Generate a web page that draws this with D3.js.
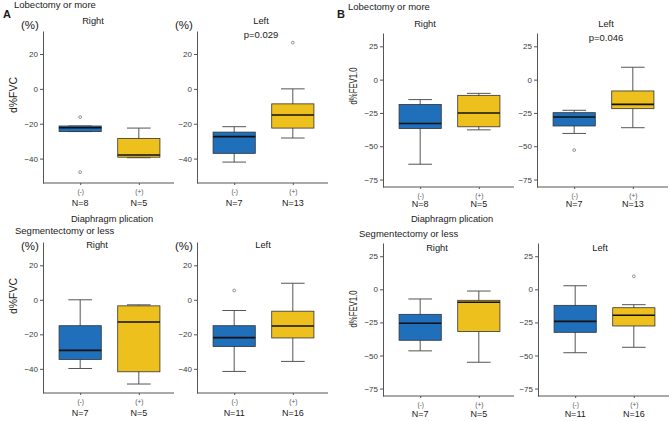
<!DOCTYPE html>
<meta charset="utf-8">
<style>
    body { margin: 0; background: #fff; }
    svg text { font-family: "Liberation Sans", Arial, sans-serif; fill: #1a1a1a; }
    .tick text { fill: #3a3a3a; font-size: 8px; }
    .tick line, .domain { stroke: #555; }
    .xax .tick text { font-size: 6.5px; fill: #555; }
</style>
<svg width="671" height="421"></svg>
<script src="https://d3js.org/d3.v7.min.js"></script>
<script>
    var svg = d3.select("svg");

    var groups = ["(-)", "(+)"];
    var colors = ["#1f6fba", "#edc01e"];
    var fvcTicks = [20, 0, -20, -40];
    var fev1Ticks = [25, 0, -25, -50, -75];

    // boxes: [lower whisker, q1, median, q3, upper whisker]
    var fvcLobRight = [[-24.5, -24.5, -22.3, -21.3, -21.3], [-39.5, -39.2, -37.9, -28.4, -22.5]];
    var fvcLobRightOut = [[-16.2, -47.8], []];
    var fvcLobRightN = [8, 5];

    var fvcLobLeft = [[-42, -37, -27.4, -24.8, -21.7], [-28.2, -22.5, -15, -8.6, 0]];
    var fvcLobLeftOut = [[], [26.5]];
    var fvcLobLeftN = [7, 13];

    var fvcSegRight = [[-39.8, -34.6, -29.3, -15, 0], [-48.8, -41.7, -12.9, -3.5, -2.9]];
    var fvcSegRightOut = [[], []];
    var fvcSegRightN = [7, 5];

    var fvcSegLeft = [[-41.5, -27.1, -21.9, -15, -6.2], [-35.7, -22.1, -15.2, -6.6, 9.6]];
    var fvcSegLeftOut = [[5.4], []];
    var fvcSegLeftN = [11, 16];

    var fevLobRight = [[-63.5, -36.7, -32.9, -18.6, -15], [-37.7, -35.4, -25, -11.8, -10.3]];
    var fevLobRightOut = [[], []];
    var fevLobRightN = [8, 5];

    var fevLobLeft = [[-40.4, -34.8, -28, -24.8, -23], [-36.1, -21.8, -18.6, -8.5, 9.3]];
    var fevLobLeftOut = [[-52.9], []];
    var fevLobLeftN = [7, 13];

    var fevSegRight = [[-46.5, -38.5, -25.6, -18.9, -7.3], [-55.1, -31.9, -9.8, -8.3, -1.3]];
    var fevSegRightOut = [[], []];
    var fevSegRightN = [7, 5];

    var fevSegLeft = [[-47.9, -32.5, -24.2, -12.1, 2.7], [-43.8, -27.7, -19.6, -13.9, -11.6]];
    var fevSegLeftOut = [[], [9.8]];
    var fevSegLeftN = [11, 16];

    // panel layout
    var panels = [
        {box: fvcLobRight, out: fvcLobRightOut, n: fvcLobRightN, ticks: fvcTicks, dom: [-54, 33.2],
         ax: 43, y0: 31, y1: 183, side: "Right", lx: 93, ly: 24, pctY: 29, ytitle: "d%FVC", ty: 95, nY: 206},
        {box: fvcLobLeft, out: fvcLobLeftOut, n: fvcLobLeftN, ticks: fvcTicks, dom: [-54, 33.2],
         ax: 197, y0: 31, y1: 183, side: "Left", lx: 261, ly: 24, pctY: 29, p: "p=0.029", nY: 206},
        {box: fvcSegRight, out: fvcSegRightOut, n: fvcSegRightN, ticks: fvcTicks, dom: [-54, 33.5],
         ax: 43, y0: 242, y1: 393, side: "Right", lx: 97, ly: 248, pctY: 249.5, ytitle: "d%FVC", ty: 296, nY: 416},
        {box: fvcSegLeft, out: fvcSegLeftOut, n: fvcSegLeftN, ticks: fvcTicks, dom: [-54, 33.5],
         ax: 197, y0: 242, y1: 393, side: "Left", lx: 263, ly: 248, pctY: 249.5, nY: 416},
        {box: fevLobRight, out: fevLobRightOut, n: fevLobRightN, ticks: fev1Ticks, dom: [-80.6, 35],
         ax: 383, y0: 33, y1: 187, side: "Right", lx: 425, ly: 27, ytitle: "d%FEV1.0", ty: 86, nY: 207},
        {box: fevLobLeft, out: fevLobLeftOut, n: fevLobLeftN, ticks: fev1Ticks, dom: [-80.6, 35],
         ax: 537, y0: 33, y1: 187, side: "Left", lx: 606, ly: 27, p: "p=0.046", nY: 207},
        {box: fevSegRight, out: fevSegRightOut, n: fevSegRightN, ticks: fev1Ticks, dom: [-80.6, 35],
         ax: 383, y0: 243, y1: 396, side: "Right", lx: 437, ly: 251, ytitle: "d%FEV1.0", ty: 309, nY: 417},
        {box: fevSegLeft, out: fevSegLeftOut, n: fevSegLeftN, ticks: fev1Ticks, dom: [-80.6, 35],
         ax: 538, y0: 243, y1: 396, side: "Left", lx: 600, ly: 251, nY: 417}
    ];

    panels.forEach(drawPanel);

    function drawPanel(p) {
        var g = svg.append("g");
        var y = d3.scaleLinear().domain(p.dom).range([p.y1, p.y0]);
        var x = d3.scaleLinear().domain([0.4, 2.6]).range([p.ax + 2, p.ax + 131]);
        var bw = (x(2) - x(1)) * 0.72;

        g.append("g").attr("transform", "translate(" + p.ax + ",0)")
            .call(d3.axisLeft(y).tickValues(p.ticks).tickSize(3).tickPadding(2).tickSizeOuter(0));
        g.append("g").attr("class", "xax").attr("transform", "translate(0," + p.y1 + ")")
            .call(d3.axisBottom(x).tickValues([1, 2]).tickSize(2).tickPadding(4).tickSizeOuter(0)
                .tickFormat(function (d) { return groups[d - 1]; }))
            .select(".domain").attr("d", "M" + p.ax + ",0H" + (p.ax + 131));

        var b = g.selectAll(".bx").data(p.box).enter().append("g").attr("class", "bx");
        // whiskers
        b.append("line")
            .attr("x1", function (d, i) { return x(i + 1); }).attr("x2", function (d, i) { return x(i + 1); })
            .attr("y1", function (d) { return y(d[0]); }).attr("y2", function (d) { return y(d[4]); })
            .attr("stroke", "#555").attr("stroke-width", 1);
        [0, 4].forEach(function (k) {
            b.append("line")
                .attr("x1", function (d, i) { return x(i + 1) - bw * 0.28; })
                .attr("x2", function (d, i) { return x(i + 1) + bw * 0.28; })
                .attr("y1", function (d) { return y(d[k]); }).attr("y2", function (d) { return y(d[k]); })
                .attr("stroke", "#555").attr("stroke-width", 1);
        });
        b.append("rect")
            .attr("x", function (d, i) { return x(i + 1) - bw / 2; })
            .attr("width", bw)
            .attr("y", function (d) { return y(d[3]); })
            .attr("height", function (d) { return y(d[1]) - y(d[3]); })
            .attr("fill", function (d, i) { return colors[i]; })
            .attr("stroke", "#333").attr("stroke-width", 0.8);
        b.append("line")
            .attr("x1", function (d, i) { return x(i + 1) - bw / 2; })
            .attr("x2", function (d, i) { return x(i + 1) + bw / 2; })
            .attr("y1", function (d) { return y(d[2]); }).attr("y2", function (d) { return y(d[2]); })
            .attr("stroke", "#111").attr("stroke-width", 1.6);

        p.out.forEach(function (arr, i) {
            g.selectAll(null).data(arr).enter().append("circle")
                .attr("cx", x(i + 1)).attr("cy", function (v) { return y(v); })
                .attr("r", 1.4).attr("fill", "none").attr("stroke", "#777").attr("stroke-width", 0.8);
        });

        g.selectAll(null).data(p.n).enter().append("text")
            .attr("x", function (d, i) { return x(i + 1); }).attr("y", p.nY)
            .attr("text-anchor", "middle").style("font-size", "9px")
            .text(function (d) { return "N=" + d; });

        g.append("text").attr("x", p.lx).attr("y", p.ly).attr("text-anchor", "middle")
            .style("font-size", "9.3px").text(p.side);
        if (p.p) g.append("text").attr("x", p.lx).attr("y", p.ly + 13.5).attr("text-anchor", "middle")
            .style("font-size", "9.5px").text(p.p);
        if (p.pctY) g.append("text").attr("x", p.ax - 22).attr("y", p.pctY)
            .style("font-size", "11.5px").text("(%)");
        if (p.ytitle) {
            var len = p.pctY ? 36 : 37;
            g.append("text")
                .attr("transform", "translate(" + (p.ax - 26.5) + "," + (p.ty + len / 2) + ") rotate(-90)")
                .style("font-size", "10.5px")
                .attr("textLength", len).attr("lengthAdjust", "spacingAndGlyphs")
                .text(p.ytitle);
        }
    }

    // headings
    svg.append("text").attr("x", 3).attr("y", 18).style("font-size", "11px").style("font-weight", "bold").text("A");
    svg.append("text").attr("x", 337).attr("y", 18).style("font-size", "11px").style("font-weight", "bold").text("B");
    svg.append("text").attr("x", 14).attr("y", 8).style("font-size", "9.5px").text("Lobectomy or more");
    svg.append("text").attr("x", 348).attr("y", 10).style("font-size", "9.5px").text("Lobectomy or more");
    svg.append("text").attr("x", 15).attr("y", 234).style("font-size", "9.5px").text("Segmentectomy or less");
    svg.append("text").attr("x", 359).attr("y", 237).style("font-size", "9.5px").text("Segmentectomy or less");
    svg.append("text").attr("x", 112).attr("y", 221.5).attr("text-anchor", "middle").style("font-size", "9.3px").text("Diaphragm plication");
    svg.append("text").attr("x", 452).attr("y", 222).attr("text-anchor", "middle").style("font-size", "9.3px").text("Diaphragm plication");
</script>
